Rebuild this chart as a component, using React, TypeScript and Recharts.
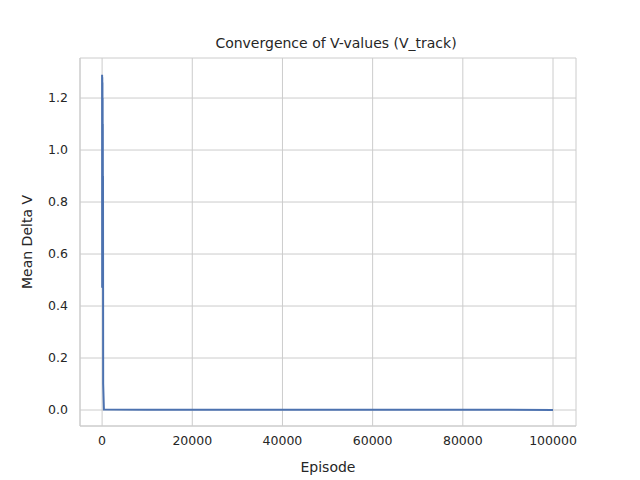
import React from 'react';
import { LineChart, Line, XAxis, YAxis, CartesianGrid } from 'recharts';

const episodes = [0, 20, 40, 60, 80, 100, 120, 140, 160, 180, 200, 220, 240, 400, 10000, 50000, 100000];
const deltaV = [1.29, 0.47, 1.28, 0.5, 1.26, 0.49, 1.2, 0.6, 1.1, 0.55, 0.9, 0.47, 0.1, 0.002, 0.001, 0.0008, 0.0005];
const xTicks = [0, 20000, 40000, 60000, 80000, 100000];
const yTicks = [0, 0.2, 0.4, 0.6, 0.8, 1.0, 1.2];

const data = episodes.map((e, i) => ({ episode: e, v: deltaV[i] }));
const grid = '#cccccc';
const font = 'DejaVu Sans, sans-serif';

const App = () => (
  <div style={{ position: 'absolute', left: 0, top: 0, width: 640, height: 480, background: '#fff', fontFamily: font }}>
    <div style={{ position: 'absolute', top: 35, width: 640, textAlign: 'center', fontSize: 14, color: '#262626', paddingLeft: 16 }}>
      Convergence of V-values (V_track)
    </div>
    <LineChart width={640} height={480} data={data} margin={{ top: 58, right: 64, left: 0, bottom: 0 }}>
      <CartesianGrid stroke={grid} strokeWidth={1} />
      <XAxis dataKey="episode" type="number" domain={[-4900, 105100]} ticks={xTicks} allowDataOverflow
        tickLine={false} axisLine={{ stroke: grid }} tick={{ fill: '#262626', fontSize: 12.5, fontFamily: font }}
        height={54} tickMargin={4}
        label={{ value: 'Episode', position: 'insideBottom', offset: 8, fill: '#262626', fontSize: 14, fontFamily: font }} />
      <XAxis xAxisId="top" orientation="top" dataKey="episode" type="number" domain={[-4900, 105100]} tick={false} tickLine={false} axisLine={{ stroke: grid }} height={0} />
      <YAxis type="number" domain={[-0.0615, 1.354]} ticks={yTicks} allowDataOverflow width={80}
        tickFormatter={(v: number) => v.toFixed(1)}
        tickLine={false} axisLine={{ stroke: grid }} tick={{ fill: '#262626', fontSize: 12.5, fontFamily: font }} tickMargin={6}
        label={{ value: 'Mean Delta V', angle: -90, position: 'insideLeft', offset: 27, fill: '#262626', fontSize: 14, fontFamily: font, style: { textAnchor: 'middle' } }} />
      <YAxis yAxisId="right" orientation="right" type="number" domain={[-0.0615, 1.354]} tick={false} tickLine={false} axisLine={{ stroke: grid }} width={0} />
      <Line dataKey="v" stroke="#4c72b0" strokeWidth={2} dot={false} type="linear" isAnimationActive={false} />
    </LineChart>
  </div>
);

export default App;
